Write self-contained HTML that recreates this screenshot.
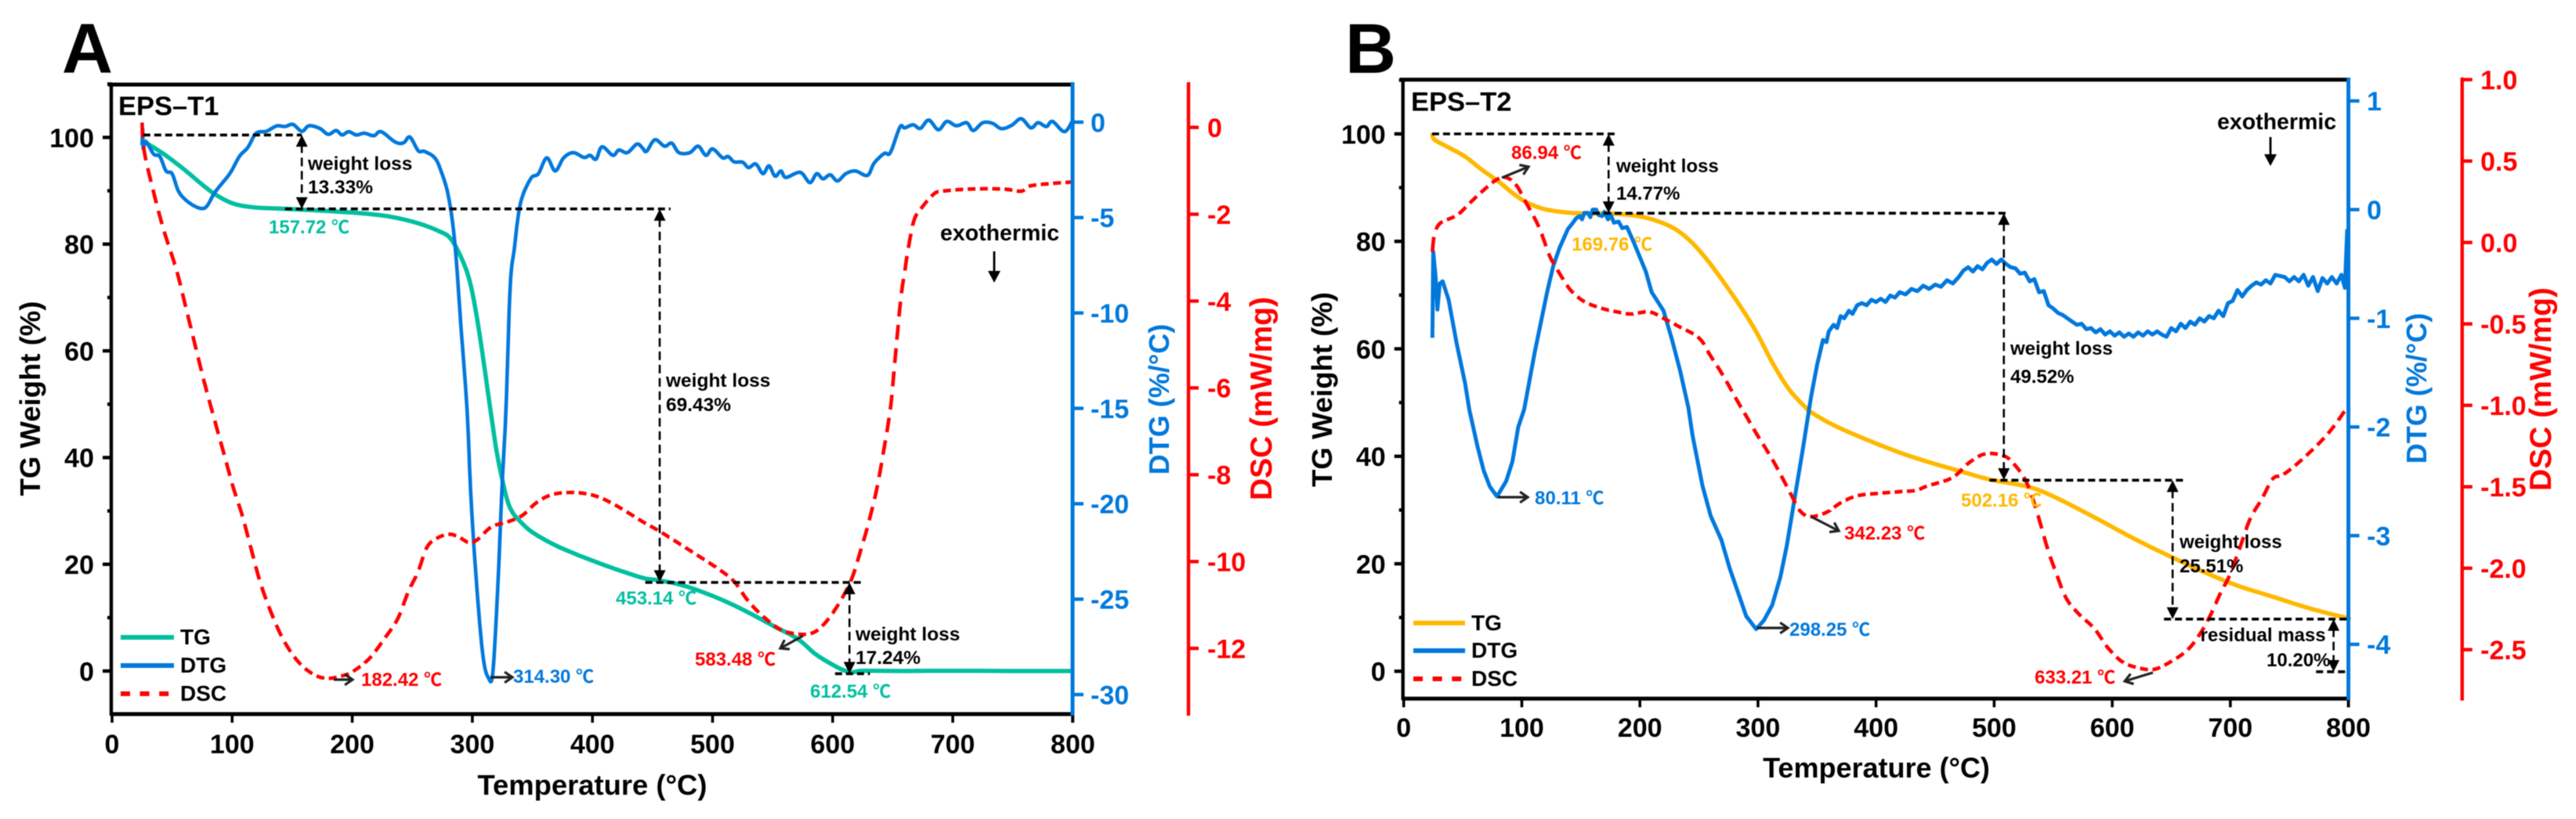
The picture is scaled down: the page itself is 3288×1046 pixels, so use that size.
<!DOCTYPE html>
<html lang="en">
<head>
<meta charset="utf-8">
<title>EPS-T1 and EPS-T2 thermal analysis</title>
<style>
html,body{margin:0;padding:0;background:#fff;}
body{width:3288px;height:1046px;overflow:hidden;}
svg{display:block;filter:blur(0.5px);font-family:"Liberation Sans","Noto Sans CJK SC",sans-serif;font-weight:bold;}
</style>
</head>
<body>
<svg id="figure" xmlns="http://www.w3.org/2000/svg" width="3288" height="1046" viewBox="0 0 3288 1046"></svg>
<script>
/* ---------- shared tick values ---------- */
const xTickValues = [0,100,200,300,400,500,600,700,800];
const tgTickValues = [0,20,40,60,80,100];
const tgMinorValues = [10,30,50,70,90,110];

/* ---------- panel A data ---------- */
const dtgTicksA = [0,-5,-10,-15,-20,-25,-30];
const dscTicksA = [0,-2,-4,-6,-8,-10,-12];

const tgTempA = [26,43,60,77,87.5,101,118,145.5,180,214,234,255,272,282,292,299,306,316,321,328,333,340,350,367,384,401,418,442,455,476,503,527,551,571,588,612,625,660,700,750,800];
const tgValA = [99.3,96.9,94,90.8,89.1,87.6,86.9,86.6,86.2,85.65,85.05,83.9,82.45,81,76.85,71.95,63.15,47.5,40.2,32.9,29.9,28,26,23.8,22.1,20.6,19.2,17.45,17,16,13.8,11.3,8.4,6,2.8,-0.1,0.05,0,0.05,0,0];

const dtgTempA = [25,25.5,26,28,34.6,39.8,45,50,55,60,67,74,79,86,98,106,113,120,128.5,137,144,150.7,158,164,173,180,186.5,191.6,197,203.5,210,218,224,236,242.8,248,255,260,268.4,273.5,280,285.4,290.5,295.6,299,304,309,313.4,317,321,324.7,328,331.5,335,340,348.5,355,362,369,376,384,393,398,403,408,417,422,429,437,441.6,445,452,460,466,472,481,488,494.5,500,508.4,513,518,525,530,536,542,547,552,557,561,573,581,586.7,592,598,604,611,619,629,634.5,643,648,656,660,667,673,680,688,695,703,711.6,717,725,733,740.5,749,757,765,771,778,783,793,800];
const dtgValA = [-1.2,-0.37,-1.4,-1,-1.67,-1.8,-2.56,-2.7,-3.58,-4,-4.34,-4.52,-4.4,-3.65,-2.7,-1.8,-1.33,-0.58,-0.48,-0.2,-0.23,-0.12,-0.48,-0.19,-0.33,-0.64,-0.44,-0.67,-0.5,-0.67,-0.58,-0.71,-0.5,-1.05,-1.08,-0.78,-1.5,-1.53,-1.85,-2.49,-3.86,-6.32,-10.7,-15.1,-19.85,-24.6,-28.05,-29.12,-28.87,-24.6,-19.16,-15.05,-8.65,-6.6,-4.27,-2.97,-2.7,-1.87,-2.56,-1.87,-1.6,-1.85,-1.74,-1.94,-1.29,-1.74,-1.46,-1.6,-1.15,-1.35,-1.53,-0.92,-1.26,-1.1,-1.6,-1.6,-1.26,-1.74,-1.4,-1.87,-1.8,-2.08,-2.1,-2.38,-2.19,-2.7,-2.29,-2.83,-2.56,-2.9,-2.63,-3.17,-2.7,-2.97,-2.76,-3.08,-2.7,-2.56,-2.79,-2.15,-1.64,-1.6,-0.26,-0.3,-0.14,-0.33,0.11,-0.4,0.04,-0.19,-0.03,-0.44,-0.03,-0.06,-0.34,-0.17,0.18,-0.3,-0.03,-0.23,0.04,-0.5,0.11];

const dscTempA = [25,26.8,34.7,43,53.4,60,69,76,82.4,92.6,101,108,115,122,128.5,139,149,159,170,180,190.5,200,214,228,238,246.6,255,262,270,280.5,289,297,304,316,330,342,354,367.4,384.4,401.4,418.5,441.7,457,475.8,492.8,508,518.3,530,544,557.6,571,581.5,590,600,610.5,617.3,624,629,636,641.3,648,651.5,656.6,660,663,668,675,684,691,715,742,757,764,783,798.5];
const dscValA = [0.11,-0.55,-1.5,-2.36,-3.26,-3.98,-5,-5.78,-6.44,-7.46,-8.3,-8.9,-9.62,-10.35,-10.89,-11.6,-12.09,-12.42,-12.63,-12.69,-12.64,-12.54,-12.24,-11.73,-11.31,-10.7,-10.22,-9.68,-9.47,-9.37,-9.44,-9.56,-9.5,-9.2,-9.08,-8.93,-8.63,-8.45,-8.41,-8.48,-8.69,-9.08,-9.32,-9.65,-9.95,-10.23,-10.47,-10.92,-11.31,-11.58,-11.67,-11.66,-11.52,-11.19,-10.71,-10.29,-9.68,-9.2,-8.42,-7.64,-6.49,-5.48,-3.98,-3.32,-2.78,-2.12,-1.82,-1.54,-1.47,-1.42,-1.42,-1.47,-1.35,-1.29,-1.26];

/* ---------- panel B data ---------- */
const dtgTicksB = [1,0,-1,-2,-3,-4];
const dscTicksB = [1,0.5,0,-0.5,-1,-1.5,-2,-2.5];

const tgTempB = [24.3,26,38,52,66,80,93.7,104,118,135,152.7,173.5,194,211.7,229,243,256.8,270.6,284.5,298.4,312.3,326,340,345,364,392,420,443.4,468,496,527.5,548.5,583.5,618.5,650,681.6,706,734,765.6,797,800];
const tgValB = [100.15,98.94,97.48,95.78,93.35,91.17,88.74,87.28,86.07,85.44,85.19,85.19,84.85,84,82.4,80,76.6,72.5,68.1,63.2,57.4,52.55,49.15,48.2,45.8,43.1,40.7,39,37.44,35.7,34.4,32.7,28.8,24.67,21.27,18.1,15.93,14,11.8,10,9.9];

const dtgTempB = [24.3,25,27,28.5,30.5,33,38,45,52,55.5,62.5,67.7,73,79,86.7,92,97,102,111,121.4,126.6,132,139,144,146,149,151,153,156,158,160,163,165,168,170,173,175,178,182,185,189,194,205,210,220,227,234,241,244.6,253,260,269,276,283,290,298.4,305,312,319,324.4,331,338,345,350,355,358,360,364,367,370,373,377,380,384,388,392,396,400,404,408,412,416,420,425,430,435,440,445,450,455,460,465,470,474,478,482,486,490,494,498,502,506,510,514,518,522,526,530,534,538,542,546,550,554,558,562,566,570,574,578,582,586,590,594,598,602,606,610,614,618,622,626,630,634,638,642,646,650,654,658,662,666,670,674,678,682,686,690,694,698,702,706,710,714,718,722,726,730,734,738,742,746,750,754,758,762,766,770,774,778,782,786,790,794,797,799];
const dtgValB = [-1.18,-0.39,-0.62,-0.92,-0.68,-0.66,-0.83,-1.24,-1.6,-1.84,-2.18,-2.4,-2.55,-2.64,-2.5,-2.32,-2,-1.84,-1.31,-0.76,-0.52,-0.35,-0.18,-0.11,-0.08,-0.06,-0.09,-0.03,-0.03,-0.07,0,0,-0.05,-0.06,-0.02,-0.09,-0.04,-0.12,-0.11,-0.17,-0.16,-0.28,-0.57,-0.76,-0.93,-1.19,-1.48,-1.82,-2.08,-2.54,-2.82,-3.04,-3.3,-3.52,-3.74,-3.86,-3.78,-3.64,-3.38,-3.09,-2.66,-2.2,-1.72,-1.43,-1.2,-1.22,-1.12,-1.06,-1.09,-0.98,-1,-0.93,-0.96,-0.88,-0.86,-0.88,-0.83,-0.85,-0.82,-0.85,-0.79,-0.81,-0.76,-0.78,-0.73,-0.75,-0.7,-0.73,-0.69,-0.71,-0.65,-0.68,-0.62,-0.56,-0.53,-0.57,-0.52,-0.55,-0.49,-0.46,-0.5,-0.46,-0.5,-0.53,-0.54,-0.59,-0.58,-0.66,-0.64,-0.76,-0.75,-0.88,-0.91,-0.95,-0.97,-1,-1.03,-1.06,-1.05,-1.1,-1.09,-1.13,-1.1,-1.15,-1.12,-1.16,-1.13,-1.17,-1.14,-1.17,-1.13,-1.16,-1.12,-1.15,-1.12,-1.15,-1.17,-1.09,-1.12,-1.05,-1.09,-1.03,-1.06,-1,-1.03,-0.98,-1,-0.93,-0.98,-0.86,-0.84,-0.74,-0.8,-0.74,-0.7,-0.67,-0.69,-0.65,-0.68,-0.6,-0.61,-0.62,-0.66,-0.62,-0.66,-0.6,-0.7,-0.62,-0.75,-0.63,-0.68,-0.62,-0.68,-0.6,-0.72,-0.18];

const dscTempB = [24.3,26,31,45,55.5,66,78,86.7,95.4,104,114.5,123,128.4,135,142,152.7,166.6,180.4,192.6,208,220,232.5,250,260,270.6,283,288,298.4,312,322.7,329.6,335,343.5,357.4,371,385,402.5,420,433.7,443.4,464.4,478.4,492.4,508,517,527.5,536,545,552,560.7,571,585,595.8,608,622,636,650,664,674.6,683,692,699,708,716.6,727,736,744.6,758.6,776,788.4,799];
const dscValB = [-0.057,0.047,0.119,0.167,0.239,0.311,0.383,0.399,0.351,0.239,0.095,-0.073,-0.146,-0.226,-0.298,-0.362,-0.402,-0.426,-0.439,-0.426,-0.466,-0.514,-0.586,-0.698,-0.819,-0.979,-1.04,-1.17,-1.33,-1.474,-1.57,-1.643,-1.683,-1.659,-1.594,-1.554,-1.54,-1.53,-1.522,-1.495,-1.445,-1.354,-1.298,-1.31,-1.362,-1.474,-1.65,-1.875,-2.02,-2.18,-2.276,-2.372,-2.484,-2.572,-2.612,-2.62,-2.572,-2.5,-2.4,-2.29,-2.147,-2.05,-1.875,-1.7,-1.57,-1.45,-1.426,-1.346,-1.226,-1.122,-1.01];

/* ---------- axis functions ---------- */
const xA = t => 143 + 1.533 * t;
const tgA = v => 857 - 6.815 * v;
const dtgA = v => 156 - 24.37 * v;
const dscA = v => 162.7 - 55.45 * v;
const xB = t => 1791.7 + 1.5073 * t;
const tgB = v => 857.3 - 6.863 * v;
const dtgB = v => 267.7 - 138.8 * v;
const dscB = v => 309.7 - 208 * v;

const BLUE = '#0078dc', RED = '#ff0000', TEAL = '#00bf9f', ORANGE = '#ffb800', INK = '#000000';
const NS = 'http://www.w3.org/2000/svg';
const root = document.getElementById('figure');

function add(parent, tag, name, attrs) {
  const el = document.createElementNS(NS, tag);
  
  
  for (const k in attrs) el.setAttribute(k, attrs[k]);
  parent.appendChild(el);
  return el;
}
function line(g, name, x1, y1, x2, y2, color, w, dash) {
  const a = {x1, y1, x2, y2, stroke: color, 'stroke-width': w};
  if (dash) a['stroke-dasharray'] = dash;
  return add(g, 'line', name, a);
}
function text(g, name, x, y, str, size, fill, anchor) {
  const t = add(g, 'text', name, {x, y, 'font-size': size, fill: fill || INK, 'text-anchor': anchor || 'start'});
  t.textContent = str;
  return t;
}
function vtext(g, name, x, y, str, size, fill) {
  const t = add(g, 'text', name, {x, y, 'font-size': size, fill, 'text-anchor': 'middle', transform: 'rotate(-90 ' + x + ' ' + y + ')'});
  t.textContent = str;
  return t;
}
function peakLabel(g, name, x, y, str, fill) {
  const t = add(g, 'text', name, {x, y, 'font-size': 24, fill});
  t.textContent = str + ' ';
  const u = add(t, 'tspan', name + '-unit', {'font-family': '"Noto Sans CJK SC",sans-serif', 'font-weight': 'bold', 'font-size': 23});
  u.textContent = '℃';
}
function pixelPoints(temps, vals, fx, fy) {
  return temps.map((t, i) => [fx(t), fy(vals[i])]);
}
function smooth(p) {
  const out = [];
  for (let i = 0; i < p.length - 1; i++) {
    const a = p[Math.max(i - 1, 0)], b = p[i], c = p[i + 1], d = p[Math.min(i + 2, p.length - 1)];
    for (let k = 0; k < 8; k++) {
      const s = k / 8, s2 = s * s, s3 = s2 * s;
      out.push([
        0.5 * (2 * b[0] + (c[0] - a[0]) * s + (2 * a[0] - 5 * b[0] + 4 * c[0] - d[0]) * s2 + (3 * b[0] - a[0] - 3 * c[0] + d[0]) * s3),
        0.5 * (2 * b[1] + (c[1] - a[1]) * s + (2 * a[1] - 5 * b[1] + 4 * c[1] - d[1]) * s2 + (3 * b[1] - a[1] - 3 * c[1] + d[1]) * s3)
      ]);
    }
  }
  out.push(p[p.length - 1]);
  return out;
}
function pathOf(p) {
  return 'M' + p.map(q => q[0].toFixed(1) + ' ' + q[1].toFixed(1)).join('L');
}
/* dashes are measured with a vertically relaxed metric: long on steep runs, short on flat runs */
function dashedPath(p) {
  const on = 10, off = 5.7;
  let d = '', drawing = true, left = on;
  d += 'M' + p[0][0].toFixed(1) + ' ' + p[0][1].toFixed(1);
  for (let i = 1; i < p.length; i++) {
    let x0 = p[i - 1][0], y0 = p[i - 1][1];
    const x1 = p[i][0], y1 = p[i][1];
    let m = Math.hypot(x1 - x0, (y1 - y0) * 0.52);
    while (m > left && m > 0) {
      const f = left / m;
      x0 += (x1 - x0) * f;
      y0 += (y1 - y0) * f;
      d += (drawing ? 'L' : 'M') + x0.toFixed(1) + ' ' + y0.toFixed(1);
      m -= left;
      drawing = !drawing;
      left = drawing ? on : off;
    }
    left -= m;
    if (drawing) d += 'L' + x1.toFixed(1) + ' ' + y1.toFixed(1);
  }
  return d;
}
function solidCurve(g, name, pts, color, w) {
  add(g, 'path', name, {d: pathOf(pts), fill: 'none', stroke: color, 'stroke-width': w, 'stroke-linejoin': 'round'});
}
function dashCurve(g, name, pts, color, w) {
  add(g, 'path', name, {d: dashedPath(pts), fill: 'none', stroke: color, 'stroke-width': w});
}
function head(g, name, x, y, dir, w, h) {
  const s = dir === 'up' ? 1 : -1;
  add(g, 'polygon', name, {points: x + ',' + y + ' ' + (x - w / 2) + ',' + (y + s * h) + ' ' + (x + w / 2) + ',' + (y + s * h), fill: INK});
}
function spanArrow(g, name, x, yTop, yBottom) {
  line(g, name + '-shaft', x, yTop + 12, x, yBottom - 12, INK, 2.6, '11 6');
  head(g, name + '-head-up', x, yTop, 'up', 15, 15);
  head(g, name + '-head-down', x, yBottom, 'down', 15, 15);
}
function hDash(g, name, x1, x2, y) {
  line(g, name, x1, y, x2, y, INK, 3.6, '9 5');
}
function pointer(g, name, x1, y1, x2, y2) {
  line(g, name + '-shaft', x1, y1, x2, y2, '#222222', 3.2);
  const a = Math.atan2(y2 - y1, x2 - x1), L = 12;
  const p1 = [x2 - L * Math.cos(a - 0.6), y2 - L * Math.sin(a - 0.6)], p2 = [x2 - L * Math.cos(a + 0.6), y2 - L * Math.sin(a + 0.6)];
  add(g, 'polyline', name + '-head', {points: p1.join(',') + ' ' + x2 + ',' + y2 + ' ' + p2.join(','), fill: 'none', stroke: '#222222', 'stroke-width': 3.2});
}

function drawAxes(g, c) {
  const b = c.bottom, t = c.top;
  /* frame */
  line(g, 'plot-top-border', c.left - 5, t, c.right, t, INK, 5);
  line(g, 'plot-bottom-border', c.left - 2, b, c.right, b, INK, 5);
  line(g, 'tg-axis-line', c.left - 1, t - 2, c.left - 1, b + 2, INK, 4.4);
  /* x ticks */
  xTickValues.forEach(v => {
    line(g, 'x-tick-' + v, c.fx(v), b, c.fx(v), b + 11, INK, 3.6);
    text(g, 'x-tick-label-' + v, c.fx(v), c.xLabelY, String(v), 34, INK, 'middle');
  });
  /* TG ticks */
  tgTickValues.forEach(v => {
    line(g, 'tg-tick-' + v, c.left - 12, c.fg(v), c.left, c.fg(v), INK, 4.4);
    text(g, 'tg-tick-label-' + v, c.left - 23, c.fg(v) + 12.3, String(v), 34, INK, 'end');
  });
  tgMinorValues.forEach(v => {
    line(g, 'tg-minor-tick-' + v, c.left - 6, c.fg(v), c.left, c.fg(v), INK, 4.4);
  });
  /* DTG axis */
  line(g, 'dtg-axis-line', c.right, c.axisTopDtg, c.right, b + 2, BLUE, 5);
  line(g, 'x-tick-end', c.right, b + 2, c.right, b + 11, INK, 3.6);
  c.dtgTicks.forEach(v => {
    line(g, 'dtg-tick-' + v, c.right, c.fd(v), c.right + 14, c.fd(v), BLUE, 4.4);
    text(g, 'dtg-tick-label-' + v, c.dtgLabelX, c.fd(v) + 12.3, String(v), 34, BLUE);
  });
  /* DSC axis */
  line(g, 'dsc-axis-line', c.dscX, c.axisTopDsc, c.dscX, c.dscBottom, RED, 4.4);
  c.dscTicks.forEach(v => {
    line(g, 'dsc-tick-' + v, c.dscX, c.fs(v), c.dscX + 13, c.fs(v), RED, 4.4);
    text(g, 'dsc-tick-label-' + v, c.dscLabelX, c.fs(v) + 12.3, c.dscFmt(v), 34, RED);
  });
}
function legend(g, x1, x2, ys, tx, tys, tgColor) {
  line(g, 'legend-tg-line', x1, ys[0], x2, ys[0], tgColor, 6);
  text(g, 'legend-tg-label', tx, tys[0], 'TG', 28);
  line(g, 'legend-dtg-line', x1, ys[1], x2, ys[1], BLUE, 6);
  text(g, 'legend-dtg-label', tx, tys[1], 'DTG', 28);
  line(g, 'legend-dsc-line', x1, ys[2], x2, ys[2], RED, 6, '12 12.6');
  text(g, 'legend-dsc-label', tx, tys[2], 'DSC', 28);
}
function fmt1(v) { return v.toFixed(1); }

/* ================= PANEL A ================= */
const gA = add(root, 'g', 'panel-a', {});
text(gA, 'panel-a-letter', 79, 93, 'A', 90);
solidCurve(gA, 'tg-curve-a', smooth(pixelPoints(tgTempA, tgValA, xA, tgA)), TEAL, 5.5);
solidCurve(gA, 'dtg-curve-a', smooth(pixelPoints(dtgTempA, dtgValA, xA, dtgA)), BLUE, 4.6);
dashCurve(gA, 'dsc-curve-a', smooth(pixelPoints(dscTempA, dscValA, xA, dscA)), RED, 4.6);
drawAxes(gA, {left:143, right:1369, top:108, bottom:912, fx:xA, fg:tgA, fd:dtgA, fs:dscA, xLabelY:962,
  axisTopDtg:105, axisTopDsc:105, dscX:1517, dscBottom:914, dtgLabelX:1392, dscLabelX:1541,
  dtgTicks:dtgTicksA, dscTicks:dscTicksA, dscFmt:String});
text(gA, 'sample-label-a', 151, 147, 'EPS–T1', 34.5);
vtext(gA, 'tg-axis-title-a', 51, 509, 'TG Weight (%)', 36.5, INK);
vtext(gA, 'dtg-axis-title-a', 1492, 510, 'DTG (%/°C)', 36, BLUE);
vtext(gA, 'dsc-axis-title-a', 1623, 509, 'DSC (mW/mg)', 39, RED);
text(gA, 'x-axis-title-a', 756, 1015, 'Temperature (°C)', 36.4, INK, 'middle');
legend(gA, 154, 222, [814, 850, 886], 230, [823, 859, 895], TEAL);

hDash(gA, 'guide-start-a', xA(26), xA(158), tgA(100.45));
hDash(gA, 'guide-step1-a', xA(144), xA(465), tgA(86.6));
hDash(gA, 'guide-step2-a', xA(444), xA(626), tgA(16.6));
hDash(gA, 'guide-end-a', xA(602), xA(631), tgA(-0.5));
spanArrow(gA, 'weight-loss-arrow-1-a', xA(158), tgA(100.45), tgA(86.6));
spanArrow(gA, 'weight-loss-arrow-2-a', xA(456), tgA(86.6), tgA(16.7));
spanArrow(gA, 'weight-loss-arrow-3-a', xA(614), tgA(16.6), tgA(-0.5));
text(gA, 'weight-loss-1-label-a', 393, 217, 'weight loss', 24.5);
text(gA, 'weight-loss-1-value-a', 393, 247, '13.33%', 24.5);
text(gA, 'weight-loss-2-label-a', 850, 494, 'weight loss', 24.5);
text(gA, 'weight-loss-2-value-a', 850, 525, '69.43%', 24.5);
text(gA, 'weight-loss-3-label-a', 1092, 818, 'weight loss', 24.5);
text(gA, 'weight-loss-3-value-a', 1092, 848, '17.24%', 24.5);
peakLabel(gA, 'peak-157-label', 343, 298, '157.72', TEAL);
peakLabel(gA, 'peak-182-label', 461, 876, '182.42', RED);
peakLabel(gA, 'peak-314-label', 655, 872, '314.30', BLUE);
peakLabel(gA, 'peak-453-label', 786, 772, '453.14', TEAL);
peakLabel(gA, 'peak-583-label', 887, 850, '583.48', RED);
peakLabel(gA, 'peak-612-label', 1034, 891, '612.54', TEAL);
pointer(gA, 'peak-182-arrow', 426, 868, 450, 868);
pointer(gA, 'peak-314-arrow', 626, 865, 654, 865);
pointer(gA, 'peak-583-arrow', 1025, 812, 996, 828);
text(gA, 'exothermic-label-a', 1200, 307, 'exothermic', 28.5);
line(gA, 'exothermic-arrow-shaft-a', 1269, 321, 1269, 350, INK, 2.8);
head(gA, 'exothermic-arrow-head-a', 1269, 361, 'down', 16, 15);

/* ================= PANEL B ================= */
const gB = add(root, 'g', 'panel-b', {});
text(gB, 'panel-b-letter', 1717, 93, 'B', 90);
solidCurve(gB, 'tg-curve-b', smooth(pixelPoints(tgTempB, tgValB, xB, tgB)), ORANGE, 5.5);
solidCurve(gB, 'dtg-curve-b', pixelPoints(dtgTempB, dtgValB, xB, dtgB), BLUE, 5);
dashCurve(gB, 'dsc-curve-b', smooth(pixelPoints(dscTempB, dscValB, xB, dscB)), RED, 4.6);
drawAxes(gB, {left:1791.7, right:2997.5, top:101.7, bottom:892.3, fx:xB, fg:tgB, fd:dtgB, fs:dscB, xLabelY:941,
  axisTopDtg:99, axisTopDsc:99, dscX:3142.7, dscBottom:894.7, dtgLabelX:3021, dscLabelX:3166,
  dtgTicks:dtgTicksB, dscTicks:dscTicksB, dscFmt:fmt1});
text(gB, 'sample-label-b', 1801, 141.7, 'EPS–T2', 34.5);
vtext(gB, 'tg-axis-title-b', 1700, 497.5, 'TG Weight (%)', 36.5, INK);
vtext(gB, 'dtg-axis-title-b', 3097, 496, 'DTG (%/°C)', 36, BLUE);
vtext(gB, 'dsc-axis-title-b', 3256, 497, 'DSC (mW/mg)', 39, RED);
text(gB, 'x-axis-title-b', 2395, 993, 'Temperature (°C)', 36, INK, 'middle');
legend(gB, 1804, 1870, [795.7, 831, 867], 1878, [805, 840, 876], ORANGE);

hDash(gB, 'guide-start-b', xB(24), xB(178.7), tgB(100));
hDash(gB, 'guide-step1-b', xB(160), xB(511.7), tgB(85.24));
hDash(gB, 'guide-step2-b', xB(496), xB(661.3), tgB(35.55));
hDash(gB, 'guide-step3-b', xB(643.8), xB(799), tgB(9.71));
hDash(gB, 'guide-end-b', xB(772.6), xB(799), tgB(-0.1));
spanArrow(gB, 'weight-loss-arrow-1-b', xB(173.5), tgB(100), tgB(85.24));
spanArrow(gB, 'weight-loss-arrow-2-b', xB(508.2), tgB(85.24), tgB(35.6));
spanArrow(gB, 'weight-loss-arrow-3-b', xB(651.1), tgB(35.55), tgB(9.71));
spanArrow(gB, 'residual-mass-arrow-b', xB(787.4), tgB(9.71), tgB(-0.1));
text(gB, 'weight-loss-1-label-b', 2063, 220, 'weight loss', 24);
text(gB, 'weight-loss-1-value-b', 2063, 255, '14.77%', 24);
text(gB, 'weight-loss-2-label-b', 2566, 453, 'weight loss', 24);
text(gB, 'weight-loss-2-value-b', 2566, 489, '49.52%', 24);
text(gB, 'weight-loss-3-label-b', 2782, 700, 'weight loss', 24);
text(gB, 'weight-loss-3-value-b', 2782, 731, '25.51%', 24);
text(gB, 'residual-mass-label-b', 2808.5, 819, 'residual mass', 24);
text(gB, 'residual-mass-value-b', 2893, 851, '10.20%', 24);
peakLabel(gB, 'peak-86-label', 1929, 203, '86.94', RED);
peakLabel(gB, 'peak-169-label', 2006, 320, '169.76', ORANGE);
peakLabel(gB, 'peak-80-label', 1959, 644, '80.11', BLUE);
peakLabel(gB, 'peak-342-label', 2354, 689, '342.23', RED);
peakLabel(gB, 'peak-298-label', 2284, 812, '298.25', BLUE);
peakLabel(gB, 'peak-502-label', 2503, 647, '502.16', ORANGE);
peakLabel(gB, 'peak-633-label', 2597, 873, '633.21', RED);
pointer(gB, 'peak-86-arrow', 1917, 227, 1951, 213);
pointer(gB, 'peak-80-arrow', 1912, 635, 1950, 635);
pointer(gB, 'peak-342-arrow', 2312, 660, 2347, 678);
pointer(gB, 'peak-298-arrow', 2242.5, 802, 2282, 802);
pointer(gB, 'peak-633-arrow', 2748, 859, 2712, 870);
text(gB, 'exothermic-label-b', 2830, 165, 'exothermic', 28.5);
line(gB, 'exothermic-arrow-shaft-b', 2898, 175, 2898, 201, INK, 2.8);
head(gB, 'exothermic-arrow-head-b', 2898, 212, 'down', 16, 15);
</script>
</body>
</html>
